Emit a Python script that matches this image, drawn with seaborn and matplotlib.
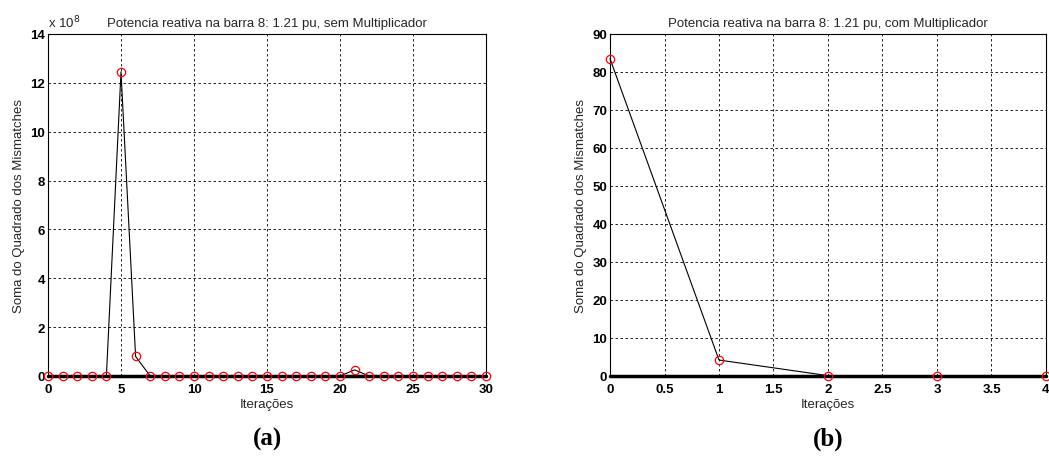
import matplotlib
matplotlib.use("Agg")
import matplotlib.pyplot as plt
import seaborn as sns
import numpy as np
import pandas as pd
from matplotlib.ticker import FuncFormatter

# Data
iter_a = list(range(31))
vals_a = [0, 0, 0, 0, 0, 12.45e8, 0.8e8, 0, 0, 0,
          0, 0, 0, 0, 0, 0, 0, 0, 0, 0,
          0, 0.25e8, 0, 0, 0, 0, 0, 0, 0, 0, 0]
iter_b = [0, 1, 2, 3, 4]
vals_b = [83.5, 4.2, 0.1, 0, 0]

title_a = "Potencia reativa na barra 8: 1.21 pu, sem Multiplicador"
title_b = "Potencia reativa na barra 8: 1.21 pu, com Multiplicador"
ylabel = "Soma do Quadrado dos Mismatches"
xlabel = "Iterações"

sns.set_style("white")
plt.rcParams['font.family'] = ['Liberation Sans', 'DejaVu Sans']

fig = plt.figure(figsize=(10.49, 4.6), dpi=100)
ax1 = fig.add_axes([48/1049, 83/460, 438/1049, 342/460])
ax2 = fig.add_axes([610/1049, 83/460, 436/1049, 342/460])

df_a = pd.DataFrame({"x": iter_a, "y": vals_a})
df_b = pd.DataFrame({"x": iter_b, "y": vals_b})

for ax, df in [(ax1, df_a), (ax2, df_b)]:
    sns.lineplot(data=df, x="x", y="y", ax=ax, color="black", linewidth=0.8,
                 marker="o", markersize=6, markerfacecolor="none",
                 markeredgecolor="red", markeredgewidth=0.9, zorder=3)
    ax.axhline(0, color="black", linewidth=2.5, zorder=2)
    ax.grid(True, color="black", linestyle=(0, (3, 3)), linewidth=0.6)
    for s in ax.spines.values():
        s.set_color("black")
        s.set_linewidth(0.8)
    ax.tick_params(axis="both", labelsize=9.5, length=3, direction="in",
                   colors="black", pad=2)
    ax.tick_params(axis="x", pad=5)
    ax.set_xlabel(xlabel, fontsize=9.5, labelpad=2)
    ax.set_ylabel(ylabel, fontsize=9.5, labelpad=4)

ax1.set_xlim(0, 30)
ax1.set_ylim(0, 14e8)
ax1.set_xticks(range(0, 31, 5))
ax1.set_yticks(np.arange(0, 15e8, 2e8))
ax1.yaxis.set_major_formatter(FuncFormatter(lambda v, p: f"{v/1e8:.0f}"))
ax1.set_title(title_a, fontsize=9.5, pad=6)
ax1.text(0.0, 1.012, r"x 10$^8$", transform=ax1.transAxes, fontsize=9.5,
         ha="left", va="bottom")

ax2.set_xlim(0, 4)
ax2.set_ylim(0, 90)
ax2.set_xticks(np.arange(0, 4.01, 0.5))
ax2.set_yticks(range(0, 91, 10))
ax2.xaxis.set_major_formatter(FuncFormatter(lambda v, p: f"{v:g}"))
ax2.set_title(title_b, fontsize=9.5, pad=6)

for ax in (ax1, ax2):
    for lbl in ax.get_xticklabels() + ax.get_yticklabels():
        lbl.set_fontweight("bold")

fig.text(267/1049, 1 - 439/460, "(a)", fontsize=18, fontweight="bold",
         family="Liberation Serif", ha="center", va="center", color="black")
fig.text(828/1049, 1 - 439/460, "(b)", fontsize=18, fontweight="bold",
         family="Liberation Serif", ha="center", va="center", color="black")

for ax in (ax1, ax2):
    for ln in ax.lines:
        ln.set_clip_on(False)

fig.savefig("out.png", dpi=100)
